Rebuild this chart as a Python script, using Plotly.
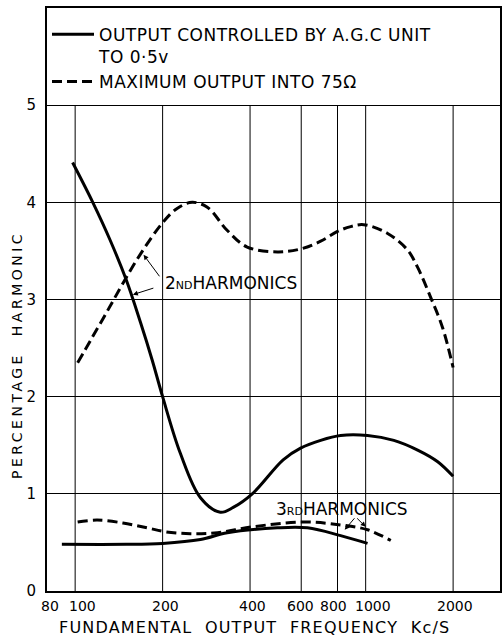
import numpy as np
import plotly.graph_objects as go

# 2nd harmonic, output controlled by AGC unit (solid)
ctrl_2nd_f = [98, 115, 132, 150, 168, 184, 200, 230, 270, 316, 350, 407, 520, 597, 700, 820, 1015, 1250, 1510, 1770, 2000]
ctrl_2nd = [4.41, 4.0, 3.61, 3.2, 2.76, 2.38, 2.0, 1.42, 0.96, 0.81, 0.86, 1.0, 1.35, 1.47, 1.55, 1.6, 1.6, 1.55, 1.45, 1.33, 1.18]

# 2nd harmonic, maximum output into 75 ohm (dashed)
max_2nd_f = [102, 113, 129, 145, 168, 200, 225, 253, 285, 334, 391, 497, 597, 700, 800, 888, 985, 1190, 1393, 1510, 1675, 1840, 2000]
max_2nd = [2.35, 2.58, 2.88, 3.15, 3.47, 3.79, 3.94, 4.0, 3.95, 3.71, 3.54, 3.49, 3.52, 3.6, 3.7, 3.75, 3.77, 3.68, 3.51, 3.33, 3.02, 2.71, 2.3]

# 3rd harmonic curves
ctrl_3rd_f = [90, 150, 200, 270, 334, 497, 630, 820, 1015]
ctrl_3rd = [0.48, 0.48, 0.49, 0.53, 0.6, 0.65, 0.65, 0.57, 0.49]
max_3rd_f = [102, 119, 146, 177, 204, 249, 309, 407, 612, 820, 1015, 1220]
max_3rd = [0.71, 0.73, 0.70, 0.65, 0.61, 0.59, 0.60, 0.66, 0.71, 0.68, 0.63, 0.52]

x_ticks = [80, 100, 200, 400, 600, 800, 1000, 2000]
x_labels = ["80", "100", "200", "400", "600", "800", "1000", "2000"]
x_grid = [100, 200, 400, 600, 800, 1000, 2000]
y_ticks = [0, 1, 2, 3, 4, 5]

FONT = "DejaVu Sans"
DASH = "10px,5px"
# hand-lettered labels sit a little off their grid lines
label_nudge = {80: 3, 100: 7, 200: 3, 400: 2, 600: -1, 800: -4, 1000: 7, 2000: 2}

fig = go.Figure()

# vertical grid lines only run up to 5 (legend panel above)
gx, gy = [], []
for v in x_grid:
    gx += [v, v, None]
    gy += [0, 5, None]
fig.add_trace(go.Scatter(x=gx, y=gy, mode="lines", line=dict(color="black", width=1),
                         showlegend=False, hoverinfo="skip"))

sp = "<span style='letter-spacing:0.5px'>{}</span>"
fig.add_trace(go.Scatter(x=ctrl_2nd_f, y=ctrl_2nd, mode="lines", line_shape="spline",
                         line=dict(color="black", width=3),
                         name=sp.format("OUTPUT CONTROLLED BY A.G.C UNIT") + "<br>" + sp.format("TO 0·5v"),
                         legendrank=1))
fig.add_trace(go.Scatter(x=max_2nd_f, y=max_2nd, mode="lines", line_shape="spline",
                         line=dict(color="black", width=3, dash=DASH),
                         name=sp.format("MAXIMUM OUTPUT INTO 75Ω"), legendrank=2))
fig.add_trace(go.Scatter(x=ctrl_3rd_f, y=ctrl_3rd, mode="lines", line_shape="spline",
                         line=dict(color="black", width=3), showlegend=False))
fig.add_trace(go.Scatter(x=max_3rd_f, y=max_3rd, mode="lines", line_shape="spline",
                         line=dict(color="black", width=3, dash=DASH), showlegend=False))

small = "<span style='font-size:11px'>{}</span>"
ann = [
    dict(text="2" + small.format("ND") + "HARMONICS", x=np.log10(200), y=3.17,
         xanchor="left", yanchor="middle", showarrow=False, font=dict(size=17)),
    dict(text="3" + small.format("RD") + "HARMONICS", x=np.log10(482), y=0.84,
         xanchor="left", yanchor="middle", showarrow=False, font=dict(size=17)),
    # pointer arrows
    dict(text="", x=np.log10(172), y=3.46, ax=17, ay=23),
    dict(text="", x=np.log10(158), y=3.05, ax=22, ay=-7),
    dict(text="", x=np.log10(847), y=0.63, ax=11, ay=-13),
    dict(text="", x=np.log10(1000), y=0.66, ax=-10, ay=-10),
]
for a in ann:
    a.setdefault("xref", "x")
    a.setdefault("yref", "y")
    if a["text"] == "":
        a.update(showarrow=True, arrowhead=2, arrowsize=1, arrowwidth=1, arrowcolor="black",
                 standoff=0)

# x tick labels, placed by hand so the crowded 600/800/1000 group stays apart
for v, t in zip(x_ticks, x_labels):
    ann.append(dict(text=t, xref="x", yref="paper", x=np.log10(v), y=0, yanchor="top",
                    xshift=label_nudge[v], yshift=-5, showarrow=False, font=dict(size=14)))

ann.append(dict(text="<span style='letter-spacing:3.5px'>PERCENTAGE  HARMONIC</span>",
                xref="paper", yref="paper", x=-0.066, y=0.405, xanchor="center", yanchor="middle",
                textangle=-90, showarrow=False, font=dict(size=14)))
ann.append(dict(text="<span style='letter-spacing:1.2px'>FUNDAMENTAL  OUTPUT  FREQUENCY  Kc/S</span>",
                xref="paper", yref="paper", x=0.457, y=-0.062, xanchor="center", yanchor="middle",
                showarrow=False, font=dict(size=16)))

fig.update_layout(
    width=502, height=641,
    margin=dict(l=47, r=2, t=8, b=50, autoexpand=False),
    paper_bgcolor="white", plot_bgcolor="white",
    font=dict(family=FONT, color="black", size=16),
    annotations=ann,
    legend=dict(x=0.0, y=0.985, xanchor="left", yanchor="top", valign="top",
                itemwidth=42, bgcolor="rgba(0,0,0,0)", font=dict(size=17)),
    xaxis=dict(type="log", range=[np.log10(80), np.log10(2900)],
               tickvals=x_ticks, showticklabels=False, automargin=False,
               showgrid=False, zeroline=False, ticks="",
               showline=True, mirror=True, linecolor="black", linewidth=2),
    yaxis=dict(range=[0, 6], tickvals=y_ticks, showgrid=True, gridcolor="black", gridwidth=1,
               zeroline=False, ticks="", ticklabelstandoff=6, automargin=False,
               tickfont=dict(size=15),
               showline=True, mirror=True, linecolor="black", linewidth=2),
)

# page body has an 8px default margin; drop it so the figure fills the window
fig.write_html("out.html", config={"displayModeBar": False},
               post_script="document.body.style.margin='0';")
